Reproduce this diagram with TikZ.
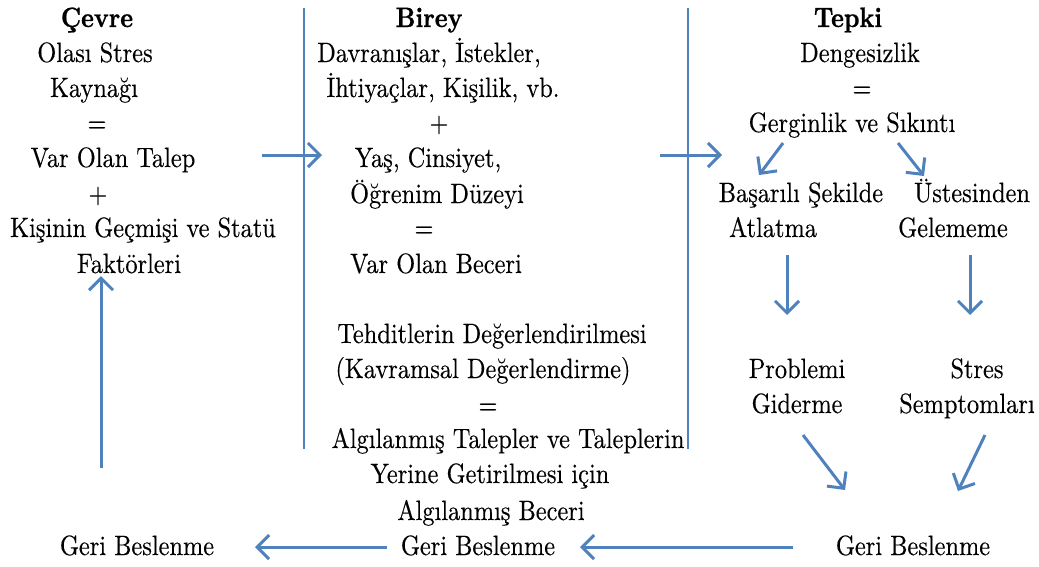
\documentclass[tikz,border=0pt]{standalone}
\usepackage{fontspec}
\setmainfont{lmroman10}[Extension=.otf, UprightFont=*-regular, BoldFont=*-bold, FakeStretch=0.87, UprightFeatures={FakeBold=0.3}, BoldFeatures={FakeBold=0.8}]
\usetikzlibrary{arrows.meta}
\definecolor{flowblue}{HTML}{4F81BD}

\tikzset{
  txt/.style={anchor=base, inner sep=0pt, font=\fontsize{28}{35}\selectfont},
  ttl/.style={txt, font=\fontsize{28}{35}\selectfont\bfseries},
  flow/.style={draw=flowblue, line width=3pt,
    -{Straight Barb[length=12pt,width=24pt,line width=3pt]}},
  sep/.style={draw=flowblue, line width=1.5pt}
}

\begin{document}
\begin{tikzpicture}[x=1pt, y=-1pt]

\useasboundingbox (0,0) rectangle (1039,566);

% Cevre
\node[ttl] (cevre) at (97,27) {Çevre};
\node[txt] (c1) at (95,62) {Olası Stres};
\node[txt] (c2) at (94,97) {Kaynağı};
\node[txt] (c3) at (97,132) {=};
\node[txt] (c4) at (113,167) {Var Olan Talep};
\node[txt] (c5) at (98,203) {+};
\node[txt] (c6) at (143,237) {Kişinin Geçmişi ve Statü};
\node[txt] (c7) at (129,273) {Faktörleri};

% Birey
\node[ttl] (birey) at (429,27) {Birey};
\node[txt] (b1) at (429,62) {Davranışlar, İstekler,};
\node[txt] (b2) at (443,97) {İhtiyaçlar, Kişilik, vb.};
\node[txt] (b3) at (439,132) {+};
\node[txt] (b4) at (428,167) {Yaş, Cinsiyet,};
\node[txt] (b5) at (437,203) {Öğrenim Düzeyi};
\node[txt] (b6) at (424,237) {=};
\node[txt] (b7) at (436,273) {Var Olan Beceri};
\node[txt] (b8) at (492,343) {Tehditlerin Değerlendirilmesi};
\node[txt] (b9) at (483,378) {(Kavramsal Değerlendirme)};
\node[txt] (b10) at (488,414) {=};
\node[txt] (b11) at (508,448) {Algılanmış Talepler ve Taleplerin};
\node[txt] (b12) at (490,483) {Yerine Getirilmesi için};
\node[txt] (b13) at (491,520) {Algılanmış Beceri};

% Tepki
\node[ttl] (tepki) at (848,27) {Tepki};
\node[txt] (t1) at (860,62) {Dengesizlik};
\node[txt] (t2) at (862,97) {=};
\node[txt] (t3) at (852,132) {Gerginlik ve Sıkıntı};
\node[txt] (t4) at (801,202) {Başarılı Şekilde};
\node[txt] (t5) at (773,237) {Atlatma};
\node[txt] (t6) at (972,202) {Üstesinden};
\node[txt] (t7) at (953,237) {Gelememe};
\node[txt] (t8) at (797,378) {Problemi};
\node[txt] (t9) at (797,413) {Giderme};
\node[txt] (t10) at (977,378) {Stres};
\node[txt] (t11) at (967,413) {Semptomları};

% Geri Beslenme
\node[txt] (gbL) at (137,555) {Geri Beslenme};
\node[txt] (gbM) at (478,555) {Geri Beslenme};
\node[txt] (gbR) at (913,555) {Geri Beslenme};

% separators
\draw[sep] (304,8) to (304,449);
\draw[sep] (688,8) to (688,449);

% arrow ends
\coordinate (upS) at (101,468);
\coordinate (upE) at (101,276);
\coordinate (h1S) at (262,155);
\coordinate (h1E) at (322,155);
\coordinate (h2S) at (660,155);
\coordinate (h2E) at (722,155);
\coordinate (dlS) at (783,143);
\coordinate (dlE) at (759,175);
\coordinate (drS) at (898,143);
\coordinate (drE) at (924,176);
\coordinate (vlS) at (787,255);
\coordinate (vlE) at (787,315);
\coordinate (vrS) at (970,255);
\coordinate (vrE) at (970,315);
\coordinate (plS) at (803,435);
\coordinate (plE) at (845,490);
\coordinate (srS) at (985,435);
\coordinate (srE) at (958,491);
\coordinate (b1S) at (793,547);
\coordinate (b1E) at (580,547);
\coordinate (b2S) at (387,547);
\coordinate (b2E) at (255,547);

\draw[flow] (upS) to (upE);
\draw[flow] (h1S) to (h1E);
\draw[flow] (h2S) to (h2E);
\draw[flow] (dlS) to (dlE);
\draw[flow] (drS) to (drE);
\draw[flow] (vlS) to (vlE);
\draw[flow] (vrS) to (vrE);
\draw[flow] (plS) to (plE);
\draw[flow] (srS) to (srE);
\draw[flow] (b1S) to (b1E);
\draw[flow] (b2S) to (b2E);

\end{tikzpicture}
\end{document}
